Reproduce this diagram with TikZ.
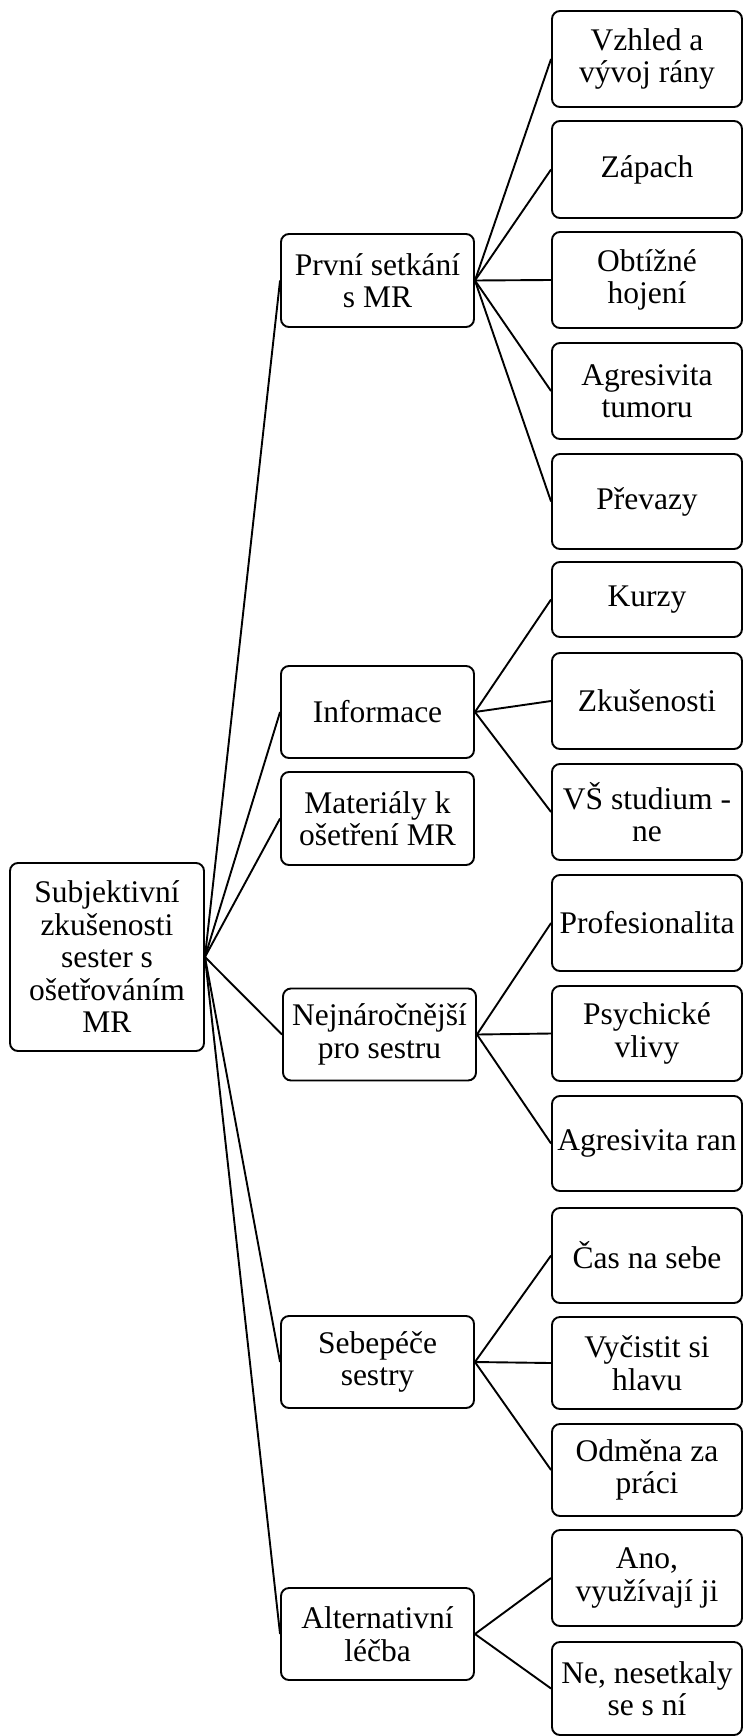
\documentclass[tikz,border=0pt]{standalone}
\usepackage{fontspec}
\setmainfont{Liberation Serif}
\tikzset{
  box/.style={draw, rounded corners=8pt, line width=1.9pt, align=center,
    inner sep=0pt, font=\fontsize{31.5}{32.5}\selectfont},
  rootbox/.style={box, minimum width=194pt, minimum height=188pt},
  midbox/.style={box, minimum width=193pt, minimum height=92pt},
  leafbox/.style={box, minimum width=190pt, minimum height=96pt},
  link/.style={line width=1.9pt}
}
\begin{document}
\begin{tikzpicture}[x=1pt,y=-1pt]
\useasboundingbox (0,0) rectangle (744,1736);

% root
\node[rootbox] (root) at (107,957) {Subjektivní\\zkušenosti\\sester s\\ošetřováním\\MR};

% second level
\node[midbox, minimum height=93pt] (ps) at (377.5,280.5) {První setkání\\s MR};
\node[midbox] (inf) at (377.5,712) {Informace};
\node[midbox, minimum height=93pt] (mat) at (377.5,818.5) {Materiály k\\ošetření MR};
\node[midbox] (nej) at (379.5,1034.5) {Nejnáročnější\\pro sestru};
\node[midbox] (seb) at (377.5,1362) {Sebepéče\\sestry};
\node[midbox] (alt) at (377.5,1634) {Alternativní\\léčba};

% leaves
\node[leafbox] (l1) at (647,59) {Vzhled a\\vývoj rány};
\node[leafbox, minimum height=97pt] (l2) at (647,169.5) {Zápach};
\node[leafbox] (l3) at (647,280) {Obtížné\\hojení};
\node[leafbox] (l4) at (647,391) {Agresivita\\tumoru};
\node[leafbox, minimum height=95pt] (l5) at (647,501.5) {Převazy};
\node[leafbox, minimum height=75pt] (l6) at (647,599.5) {Kurzy};
\node[leafbox] (l7) at (647,701) {Zkušenosti};
\node[leafbox] (l8) at (647,812) {VŠ studium -\\ne};
\node[leafbox] (l9) at (647,923) {Profesionalita};
\node[leafbox, minimum height=95pt] (l10) at (647,1033.5) {Psychické\\vlivy};
\node[leafbox, minimum height=95pt] (l11) at (647,1143.5) {Agresivita ran};
\node[leafbox, minimum height=95pt] (l12) at (647,1255.5) {Čas na sebe};
\node[leafbox, minimum height=92pt] (l13) at (647,1363) {Vyčistit si\\hlavu};
\node[leafbox, minimum height=92pt] (l14) at (647,1470) {Odměna za\\práci};
\node[leafbox] (l15) at (647,1578) {Ano,\\využívají ji};
\node[leafbox, minimum height=93pt] (l16) at (647,1688.5) {Ne, nesetkaly\\se s ní};

% connectors
\foreach \m in {ps,inf,mat,nej,seb,alt}
  \draw[link] (root.east) -- (\m.west);
\foreach \l in {l1,l2,l3,l4,l5}
  \draw[link] (ps.east) -- (\l.west);
\foreach \l in {l6,l7,l8}
  \draw[link] (inf.east) -- (\l.west);
\foreach \l in {l9,l10,l11}
  \draw[link] (nej.east) -- (\l.west);
\foreach \l in {l12,l13,l14}
  \draw[link] (seb.east) -- (\l.west);
\foreach \l in {l15,l16}
  \draw[link] (alt.east) -- (\l.west);
\end{tikzpicture}
\end{document}
